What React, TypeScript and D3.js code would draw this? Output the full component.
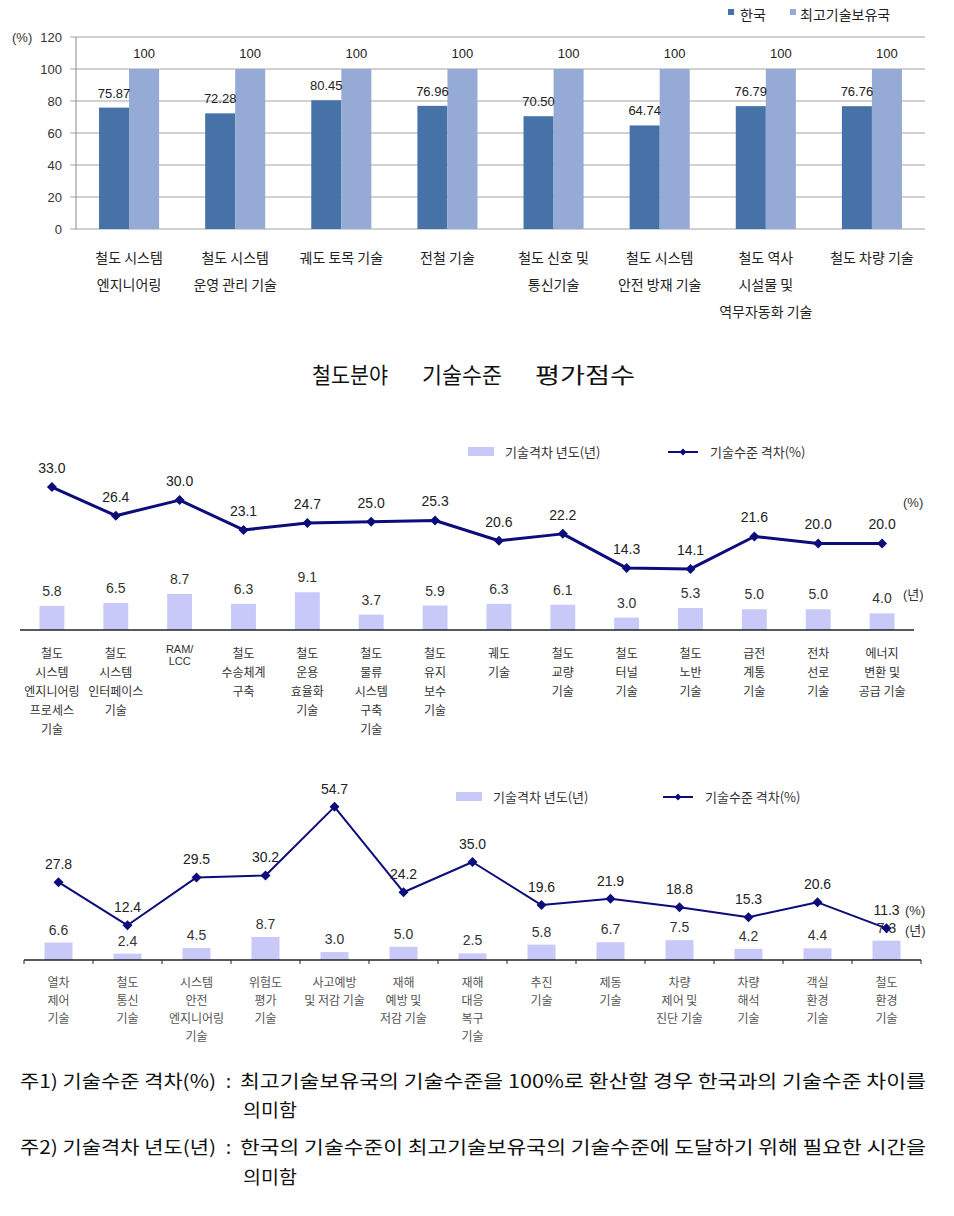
import React from "react";
import * as d3 from "d3";

// ---------- Chart 1 data ----------
const topCategories: string[][] = [
  ["철도 시스템", "엔지니어링"],
  ["철도 시스템", "운영 관리 기술"],
  ["궤도 토목 기술"],
  ["전철 기술"],
  ["철도 신호 및", "통신기술"],
  ["철도 시스템", "안전 방재 기술"],
  ["철도 역사", "시설물 및", "역무자동화 기술"],
  ["철도 차량 기술"],
];
const koreaScores = [75.87, 72.28, 80.45, 76.96, 70.5, 64.74, 76.79, 76.76];
const bestScores = [100, 100, 100, 100, 100, 100, 100, 100];
const topTicks = [0, 20, 40, 60, 80, 100, 120];
const topSeries = ["한국", "최고기술보유국"];
const titleWords = ["철도분야", "기술수준", "평가점수"];

// ---------- Chart 2 data ----------
const cats2: string[][] = [
  ["철도", "시스템", "엔지니어링", "프로세스", "기술"],
  ["철도", "시스템", "인터페이스", "기술"],
  ["RAM/", "LCC"],
  ["철도", "수송체계", "구축"],
  ["철도", "운용", "효율화", "기술"],
  ["철도", "물류", "시스템", "구축", "기술"],
  ["철도", "유지", "보수", "기술"],
  ["궤도", "기술"],
  ["철도", "교량", "기술"],
  ["철도", "터널", "기술"],
  ["철도", "노반", "기술"],
  ["급전", "계통", "기술"],
  ["전차", "선로", "기술"],
  ["에너지", "변환 및", "공급 기술"],
];
const gap2 = [33.0, 26.4, 30.0, 23.1, 24.7, 25.0, 25.3, 20.6, 22.2, 14.3, 14.1, 21.6, 20.0, 20.0];
const years2 = [5.8, 6.5, 8.7, 6.3, 9.1, 3.7, 5.9, 6.3, 6.1, 3.0, 5.3, 5.0, 5.0, 4.0];

// ---------- Chart 3 data ----------
const cats3: string[][] = [
  ["열차", "제어", "기술"],
  ["철도", "통신", "기술"],
  ["시스템", "안전", "엔지니어링", "기술"],
  ["위험도", "평가", "기술"],
  ["사고예방", "및 저감 기술"],
  ["재해", "예방 및", "저감 기술"],
  ["재해", "대응", "복구", "기술"],
  ["추진", "기술"],
  ["제동", "기술"],
  ["차량", "제어 및", "진단 기술"],
  ["차량", "해석", "기술"],
  ["객실", "환경", "기술"],
  ["철도", "환경", "기술"],
];
const gap3 = [27.8, 12.4, 29.5, 30.2, 54.7, 24.2, 35.0, 19.6, 21.9, 18.8, 15.3, 20.6, 11.3];
const years3 = [6.6, 2.4, 4.5, 8.7, 3.0, 5.0, 2.5, 5.8, 6.7, 7.5, 4.2, 4.4, 7.3];

const legendBar = "기술격차 년도(년)";
const legendLine = "기술수준 격차(%)";

const KFONT = "'Noto Sans CJK KR', 'Noto Sans', sans-serif";
const NFONT = "'Liberation Sans', Arial, 'Noto Sans CJK KR', sans-serif";

const DARK = "#4672a8";
const LIGHT = "#95abd5";
const LAV = "#c9c9f9";
const NAVY = "#0c0c7a";

function diamond(cx: number, cy: number, r: number) {
  return `M${cx},${cy - r}L${cx + r},${cy}L${cx},${cy + r}L${cx - r},${cy}Z`;
}

function TopChart() {
  const x = d3
    .scaleBand<number>()
    .domain(d3.range(topCategories.length))
    .range([76, 925])
    .paddingInner(0.434)
    .paddingOuter(0.217);
  const xs = d3.scaleBand<string>().domain(topSeries).range([0, x.bandwidth()]);
  const y = d3.scaleLinear().domain([0, 120]).range([229, 37]);
  const titleX = [312, 422, 535];
  const titleW = [76, 80, 100];
  return (
    <g>
      {/* legend */}
      <rect x={728} y={9} width={6} height={6} fill={DARK} />
      <text x={740} y={20} fontSize={14} fontFamily={KFONT} fill="#222">
        {topSeries[0]}
      </text>
      <rect x={790} y={9} width={6} height={6} fill={LIGHT} />
      <text x={800} y={20} fontSize={14} fontFamily={KFONT} fill="#222">
        {topSeries[1]}
      </text>
      {/* grid */}
      {topTicks.map((t) => (
        <g key={t}>
          <line x1={70} x2={925} y1={y(t)} y2={y(t)} stroke="#a3a3a3" strokeWidth={1} />
          <text x={62} y={y(t) + 5} fontSize={13} fontFamily={NFONT} textAnchor="end" fill="#333">
            {t}
          </text>
        </g>
      ))}
      <line x1={76} x2={76} y1={y(120)} y2={y(0)} stroke="#8a8a8a" />
      <text x={12} y={42} fontSize={13} fontFamily={NFONT} fill="#333">
        (%)
      </text>
      {topCategories.map((lines, i) => {
        const x0 = x(i)!;
        const k = koreaScores[i];
        const b = bestScores[i];
        const bw = xs.bandwidth();
        const xk = x0 + xs(topSeries[0])!;
        const xb = x0 + xs(topSeries[1])!;
        return (
          <g key={i}>
            <rect x={xk} y={y(k)} width={bw} height={y(0) - y(k)} fill={DARK} />
            <rect x={xb} y={y(b)} width={bw} height={y(0) - y(b)} fill={LIGHT} />
            <text x={xk + bw / 2} y={y(k) - 10} fontSize={13} fontFamily={NFONT} textAnchor="middle" fill="#222">
              {k.toFixed(2)}
            </text>
            <text x={xb + bw / 2} y={y(b) - 11} fontSize={13} fontFamily={NFONT} textAnchor="middle" fill="#222">
              {b}
            </text>
            {lines.map((l, j) => (
              <text
                key={j}
                x={x0 + x.bandwidth() / 2}
                y={263 + j * 27}
                fontSize={14}
                fontFamily={KFONT}
                textAnchor="middle"
                fill="#222"
              >
                {l}
              </text>
            ))}
          </g>
        );
      })}
      {titleWords.map((w, i) => (
        <text
          key={w}
          x={titleX[i]}
          y={383}
          fontSize={22}
          fontFamily={KFONT}
          fill="#111"
          textLength={titleW[i]}
          lengthAdjust="spacingAndGlyphs"
        >
          {w}
        </text>
      ))}
    </g>
  );
}

interface ComboProps {
  cats: string[][];
  gap: number[];
  years: number[];
  x0: number;
  x1: number;
  axisY: number;
  barPx: number;
  linePx: number;
  barPad: number;
  lineWidth: number;
  diamondR: number;
  lineLabelOff: number;
  barLabelOff: number;
  labelY: number;
  labelStep: number;
  legendY: number;
  legendBarX: number;
  legendLineX: number;
  pctPos: [number, number];
  yrPos: [number, number];
  ticks: boolean;
  thinLabels: boolean;
}

function ComboChart(p: ComboProps) {
  const x = d3
    .scaleBand<number>()
    .domain(d3.range(p.cats.length))
    .range([p.x0, p.x1])
    .paddingInner(p.barPad)
    .paddingOuter(p.barPad / 2);
  const yBar = d3.scaleLinear().domain([0, 10]).range([p.axisY, p.axisY - 10 * p.barPx]);
  const yLine = d3.scaleLinear().domain([0, 10]).range([p.axisY, p.axisY - 10 * p.linePx]);
  const cx = (i: number) => x(i)! + x.bandwidth() / 2;
  const line = d3
    .line<number>()
    .x((_, i) => cx(i))
    .y((d) => yLine(d));
  const step = x.step();
  return (
    <g>
      {/* legend */}
      <rect x={p.legendBarX} y={p.legendY - 5} width={26} height={9} fill={LAV} />
      <text x={p.legendBarX + 37} y={p.legendY + 5} fontSize={13} fontFamily={KFONT} fill="#333">
        {legendBar}
      </text>
      <line x1={p.legendLineX} x2={p.legendLineX + 30} y1={p.legendY} y2={p.legendY} stroke={NAVY} strokeWidth={2} />
      <path d={diamond(p.legendLineX + 15, p.legendY, 3.5)} fill={NAVY} />
      <text x={p.legendLineX + 42} y={p.legendY + 5} fontSize={13} fontFamily={KFONT} fill="#333">
        {legendLine}
      </text>
      {/* bars */}
      {p.years.map((v, i) => (
        <g key={i}>
          <rect x={x(i)!} y={yBar(v)} width={x.bandwidth()} height={p.axisY - yBar(v)} fill={LAV} />
          <text x={cx(i)} y={yBar(v) - p.barLabelOff} fontSize={14} fontFamily={NFONT} textAnchor="middle" fill="#333">
            {v.toFixed(1)}
          </text>
        </g>
      ))}
      {/* axis */}
      <line x1={p.x0} x2={p.x1} y1={p.axisY} y2={p.axisY} stroke="#222" strokeWidth={1.5} />
      {p.ticks &&
        d3.range(p.cats.length + 1).map((k) => (
          <line
            key={k}
            x1={p.x0 + k * step}
            x2={p.x0 + k * step}
            y1={p.axisY}
            y2={p.axisY + 4}
            stroke="#222"
            strokeWidth={1}
          />
        ))}
      {/* line */}
      <path d={line(p.gap) || ""} fill="none" stroke={NAVY} strokeWidth={p.lineWidth} strokeLinejoin="round" />
      {p.gap.map((v, i) => (
        <g key={i}>
          <path d={diamond(cx(i), yLine(v), p.diamondR)} fill={NAVY} />
          <text x={cx(i)} y={yLine(v) - p.lineLabelOff} fontSize={14} fontFamily={NFONT} textAnchor="middle" fill="#222">
            {v.toFixed(1)}
          </text>
        </g>
      ))}
      <text x={p.pctPos[0]} y={p.pctPos[1]} fontSize={13} fontFamily={NFONT} fill="#333">
        (%)
      </text>
      <text x={p.yrPos[0]} y={p.yrPos[1]} fontSize={13} fontFamily={NFONT} fill="#333">
        (년)
      </text>
      {/* category labels */}
      {p.cats.map((lines, i) =>
        lines.map((l, j) => {
          const latin = /^[A-Z/]+$/.test(l);
          return (
            <text
              key={`${i}-${j}`}
              x={cx(i)}
              y={latin ? p.labelY - 5 + j * 12 : p.labelY + j * p.labelStep}
              fontSize={latin ? 11 : 12}
              fontFamily={latin ? NFONT : KFONT}
              textAnchor="middle"
              fill={p.thinLabels ? "#555" : "#333"}
            >
              {l}
            </text>
          );
        })
      )}
    </g>
  );
}

function Footnotes() {
  const fs = 18;
  const st = { fontSize: fs, fontFamily: KFONT, fill: "#111" } as const;
  return (
    <g>
      <text x={20} y={1088} {...st} textLength={196} lengthAdjust="spacingAndGlyphs">
        주1) 기술수준 격차(%)
      </text>
      <text x={226} y={1088} {...st}>:</text>
      <text x={240} y={1088} {...st} textLength={686} lengthAdjust="spacingAndGlyphs">
        최고기술보유국의 기술수준을 100%로 환산할 경우 한국과의 기술수준 차이를
      </text>
      <text x={243} y={1117} {...st} textLength={54} lengthAdjust="spacingAndGlyphs">
        의미함
      </text>
      <text x={20} y={1154} {...st} textLength={196} lengthAdjust="spacingAndGlyphs">
        주2) 기술격차 년도(년)
      </text>
      <text x={226} y={1154} {...st}>:</text>
      <text x={240} y={1154} {...st} textLength={686} lengthAdjust="spacingAndGlyphs">
        한국의 기술수준이 최고기술보유국의 기술수준에 도달하기 위해 필요한 시간을
      </text>
      <text x={243} y={1184} {...st} textLength={54} lengthAdjust="spacingAndGlyphs">
        의미함
      </text>
    </g>
  );
}

export default function App() {
  return (
    <svg
      width={954}
      height={1216}
      viewBox="0 0 954 1216"
      style={{ position: "absolute", left: 0, top: 0, background: "#fff" }}
    >
      <rect x={0} y={0} width={954} height={1216} fill="#fff" />
      <TopChart />
      <ComboChart
        cats={cats2}
        gap={gap2}
        years={years2}
        x0={20}
        x1={914}
        axisY={630}
        barPx={4.15}
        linePx={4.33}
        barPad={0.61}
        lineWidth={3}
        diamondR={5}
        lineLabelOff={14}
        barLabelOff={10}
        labelY={658}
        labelStep={19}
        legendY={452}
        legendBarX={468}
        legendLineX={668}
        pctPos={[903, 507]}
        yrPos={[903, 599]}
        ticks={false}
        thinLabels={false}
      />
      <ComboChart
        cats={cats3}
        gap={gap3}
        years={years3}
        x0={24}
        x1={921}
        axisY={960}
        barPx={2.65}
        linePx={2.8}
        barPad={0.594}
        lineWidth={2}
        diamondR={5}
        lineLabelOff={13}
        barLabelOff={8}
        labelY={987}
        labelStep={18}
        legendY={797}
        legendBarX={456}
        legendLineX={663}
        pctPos={[905, 915]}
        yrPos={[905, 935]}
        ticks={true}
        thinLabels={true}
      />
      <Footnotes />
    </svg>
  );
}
